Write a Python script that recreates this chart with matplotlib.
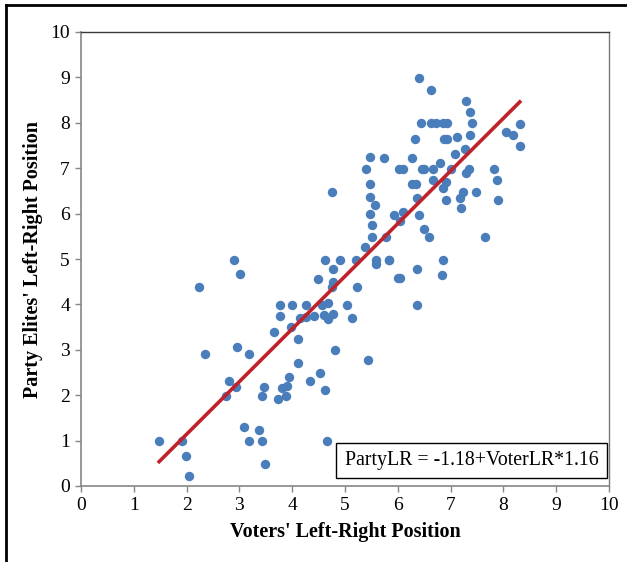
import numpy as np
from matplotlib import pyplot as plt
from matplotlib.lines import Line2D

# Voters' and party elites' left-right positions
voter_lr = [1.48, 1.91, 1.98, 2.05, 2.23, 2.34, 2.90, 3.01, 2.96, 3.19, 2.80, 2.94,
            2.75, 3.08, 3.38, 3.19, 3.42, 3.49, 3.47, 3.42, 3.73, 3.80, 3.90, 3.66,
            3.76, 3.76, 4.00, 4.26, 4.56, 4.68, 5.04, 4.15, 4.27, 4.42, 4.60, 4.77,
            4.68, 5.13, 3.98, 4.11, 4.82, 5.43, 4.11, 3.93, 4.53, 4.34, 4.63, 3.88,
            4.65, 4.49, 4.78, 4.76, 5.23, 4.77, 4.63, 4.91, 5.20, 5.59, 5.59, 5.83,
            6.01, 4.76,
            5.39, 5.47, 5.74, 5.48, 5.48, 5.57, 5.48, 5.52, 5.52, 5.78, 5.37, 5.92,
            6.10, 6.05, 6.41, 6.50, 6.60, 7.65, 5.84, 6.86, 6.36, 6.04, 6.84, 6.37,
            6.40, 6.63, 7.30, 7.37, 7.40, 6.43, 6.63, 6.72, 6.86, 6.94, 7.37, 6.32,
            6.88, 6.93, 7.13, 6.26, 7.27, 7.09, 6.79, 6.02, 6.10, 6.45, 6.50, 6.66,
            7.01, 7.35, 7.30, 7.83, 7.87, 6.27, 6.34, 6.67, 6.91, 6.86, 7.23, 7.48,
            6.36, 6.91, 7.18, 7.90, 7.19, 8.05, 8.18, 8.31, 8.31]
party_lr = [1.00, 1.00, 0.66, 0.22, 4.38, 2.91, 4.98, 4.66, 3.06, 2.91, 2.32, 2.19,
            1.99, 1.29, 1.24, 1.00, 1.00, 0.49, 2.19, 1.99, 1.91, 2.16, 2.20, 3.39,
            3.99, 3.74, 3.99, 3.99, 3.99, 4.02, 3.99, 3.69, 3.72, 3.74, 3.77, 3.79,
            3.67, 3.71, 3.51, 3.24, 2.99, 2.78, 2.71, 2.39, 2.50, 2.32, 2.12, 1.98,
            1.00, 4.56, 4.50, 4.39, 4.38, 4.79, 4.98, 4.98, 4.98, 4.98, 4.89, 4.98,
            4.59, 6.48,
            6.98, 7.24, 7.23, 6.65, 6.37, 6.19, 5.99, 5.74, 5.49, 5.48, 5.26, 5.98,
            6.04, 5.84, 5.98, 5.65, 5.48, 5.48, 4.98, 4.98, 4.79, 4.59, 4.65, 3.99,
            8.98, 8.73, 8.48, 8.23, 7.99, 7.99, 7.99, 7.99, 7.99, 7.99, 7.73, 7.65,
            7.65, 7.65, 7.68, 7.23, 7.43, 7.31, 7.11, 6.98, 6.98, 6.98, 6.98, 6.98,
            6.98, 6.98, 6.89, 6.98, 6.74, 6.65, 6.65, 6.74, 6.70, 6.56, 6.48, 6.48,
            6.35, 6.31, 6.35, 6.31, 6.12, 7.79, 7.73, 7.98, 7.48]

# fitted line
intercept = -1.18
slope = 1.16
fit_label = "PartyLR = -1.18+VoterLR*1.16"

plt.rcParams['font.family'] = ['Liberation Serif', 'DejaVu Serif']

fig = plt.figure(figsize=(6.27, 5.62), dpi=100)
ax = fig.add_axes([81/627, 1-486/562, (609-81)/627, (486-32)/562])

ax.scatter(voter_lr, party_lr, s=46, color='#4a7ebb', linewidths=0, zorder=3)

xs = np.array([min(voter_lr), max(voter_lr)])
ax.plot(xs, intercept + slope*xs, color='#c0222b', linewidth=2.6, zorder=4)

ax.set_xlim(0, 10)
ax.set_ylim(0, 10)
ax.set_xticks(range(0, 11))
ax.set_yticks(range(0, 11))
ax.tick_params(direction='out', length=4, width=1, color='#868686',
               labelsize=14, pad=4)

for side in ['left', 'bottom']:
    ax.spines[side].set_color('#868686')
    ax.spines[side].set_linewidth(1.2)
for side in ['top', 'right']:
    ax.spines[side].set_color('#3a3a3a')
    ax.spines[side].set_linewidth(1.0)
ax.spines['right'].set_color('#7a7a7a')

ax.set_xlabel("Voters' Left-Right Position", fontsize=14.5, fontweight='bold', labelpad=6)
ax.set_ylabel("Party Elites' Left-Right Position", fontsize=14.5, fontweight='bold', labelpad=5)

ax.text(0.98, 0.035, fit_label, transform=ax.transAxes, ha='right', va='bottom',
        fontsize=14.3,
        bbox=dict(boxstyle='square,pad=0.42', facecolor='white', edgecolor='black',
                  linewidth=1.0), zorder=5)

# outer frame of the figure (left and top edges visible)
fig.add_artist(Line2D([6/627, 6/627], [0, 1-5/562], color='black', linewidth=2,
                      transform=fig.transFigure))
fig.add_artist(Line2D([6/627, 1], [1-5/562, 1-5/562], color='black', linewidth=2,
                      transform=fig.transFigure))

fig.savefig('out.png', dpi=100)
